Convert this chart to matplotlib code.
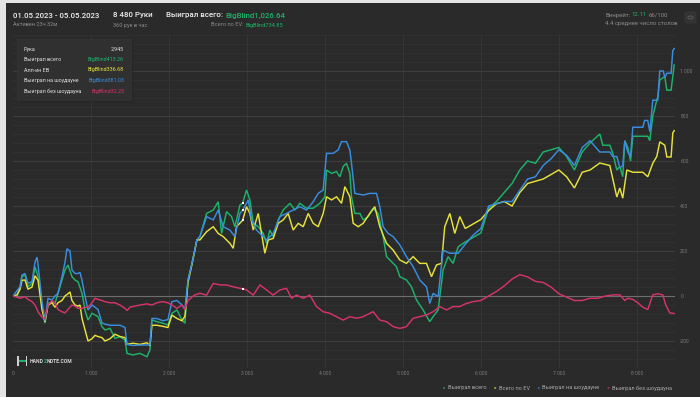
import matplotlib
matplotlib.use('Agg')
import matplotlib.pyplot as plt
from matplotlib.patches import Rectangle, FancyBboxPatch, Circle
from matplotlib.transforms import IdentityTransform

# ---------------- data: (hand, big blinds) ----------------
won_total = [
    (0, 0), (51, -3), (90, 41), (115, 86), (154, 93), (192, 41), (244, 56), (282, 130), (321, 86),
    (372, -47), (410, -121), (449, -33), (500, -25), (538, -33), (577, 12), (628, 71), (667, 116),
    (705, 138), (756, 86), (795, 71), (833, 64), (885, 12), (923, -62), (962, -107), (1013, -77),
    (1051, -84), (1090, -92), (1141, -136), (1179, -151), (1244, -144), (1308, -188), (1372, -181),
    (1436, -196), (1462, -255), (1538, -262), (1628, -255), (1718, -270), (1756, -240), (1782, -107),
    (1846, -114), (1923, -121), (1987, -129), (2038, -77), (2103, -62), (2167, -107), (2205, -121),
    (2244, 71), (2295, 145), (2359, 249), (2397, 264), (2483, 367), (2568, 382), (2632, 419),
    (2675, 278), (2739, 375), (2803, 353), (2846, 308), (2910, 404), (2945, 413.26), (2995, 471),
    (3038, 427), (3081, 323), (3145, 308), (3209, 278), (3252, 234), (3294, 293), (3337, 264),
    (3401, 338), (3465, 382), (3551, 412), (3615, 382), (3679, 412), (3764, 390), (3850, 390),
    (3935, 412), (4000, 441), (4021, 560), (4085, 545), (4149, 553), (4192, 530), (4234, 575),
    (4277, 590), (4320, 545), (4341, 441), (4384, 367), (4448, 367), (4491, 338), (4555, 353),
    (4619, 390), (4683, 367), (4747, 264), (4790, 175), (4854, 153), (4918, 130), (4961, 86),
    (5046, 71), (5110, 41), (5175, -18), (5260, -62), (5345, -114), (5388, -92), (5452, -62),
    (5516, 116), (5580, 175), (5644, 145), (5709, 219), (5800, 240), (5900, 260), (6000, 280),
    (6100, 390), (6200, 420), (6300, 460), (6400, 500), (6500, 560), (6600, 600), (6700, 590),
    (6800, 640), (6900, 650), (7000, 660), (7100, 620), (7200, 560), (7300, 640), (7400, 680),
    (7526, 720), (7564, 670), (7654, 670), (7692, 635), (7744, 560), (7782, 575), (7820, 530),
    (7846, 690), (7885, 660), (7920, 600), (7949, 710), (8077, 710), (8141, 710), (8167, 690),
    (8205, 800), (8256, 870), (8269, 885), (8295, 960), (8359, 975), (8385, 915), (8440, 915),
    (8480, 1026.64)]

allin_ev = [
    (0, 0), (51, 5), (90, 30), (115, 70), (154, 71), (192, 30), (244, 40), (282, 90), (321, 70),
    (372, -60), (410, -115), (449, -40), (500, -30), (538, -50), (577, -30), (628, -20), (667, 0),
    (705, 10), (731, 18), (756, -20), (795, -40), (833, -45), (859, -40), (885, -100), (923, -150),
    (962, -200), (1013, -190), (1051, -175), (1090, -180), (1141, -185), (1179, -200), (1244, -190),
    (1308, -170), (1372, -180), (1436, -185), (1462, -215), (1538, -210), (1628, -215), (1718, -208),
    (1756, -220), (1782, -130), (1846, -130), (1923, -135), (1987, -140), (2038, -85), (2103, -100),
    (2167, -110), (2205, -90), (2244, 60), (2295, 140), (2359, 250), (2397, 249), (2483, 286),
    (2568, 308), (2632, 278), (2696, 264), (2782, 234), (2824, 212), (2867, 308), (2945, 336.68),
    (2995, 397), (3038, 367), (3081, 293), (3145, 367), (3187, 278), (3230, 190), (3273, 249),
    (3337, 256), (3401, 323), (3465, 338), (3529, 367), (3593, 293), (3658, 323), (3722, 308),
    (3786, 367), (3850, 323), (3914, 308), (3978, 367), (4021, 441), (4085, 427), (4149, 441),
    (4213, 412), (4256, 486), (4320, 441), (4363, 323), (4427, 308), (4491, 323), (4576, 367),
    (4640, 397), (4704, 308), (4790, 234), (4875, 204), (4961, 160), (5046, 145), (5132, 175),
    (5217, 145), (5303, 145), (5367, 86), (5431, 138), (5495, 145), (5537, 308), (5602, 367),
    (5666, 278), (5730, 353), (5800, 300), (5900, 320), (6000, 340), (6100, 380), (6200, 410),
    (6300, 420), (6400, 400), (6500, 460), (6600, 500), (6700, 510), (6800, 520), (6900, 540),
    (7000, 560), (7100, 530), (7200, 480), (7300, 550), (7400, 560), (7526, 591), (7654, 580),
    (7692, 520), (7744, 440), (7782, 480), (7820, 435), (7872, 560), (7949, 550), (8077, 550),
    (8141, 530), (8205, 590), (8256, 620), (8295, 685), (8359, 670), (8385, 618), (8440, 618),
    (8462, 725), (8480, 734.85)]

showdown = [
    (0, 0), (90, 41), (115, 93), (154, 100), (192, 56), (244, 64), (282, 150), (308, 173), (321, 140),
    (372, -25), (410, -110), (449, -10), (500, -18), (538, 0), (577, 12), (628, 86), (667, 150),
    (692, 210), (731, 200), (756, 116), (795, 100), (833, 100), (859, 105), (885, 70), (923, 0),
    (962, -62), (1013, -40), (1051, -50), (1090, -60), (1141, -120), (1179, -125), (1244, -130),
    (1308, -130), (1372, -130), (1436, -140), (1462, -215), (1538, -220), (1628, -218), (1718, -218),
    (1756, -215), (1782, -100), (1846, -100), (1923, -110), (1987, -105), (2038, -25), (2103, -20),
    (2167, -40), (2205, -60), (2244, 71), (2295, 145), (2359, 250), (2397, 264), (2483, 353),
    (2568, 338), (2632, 382), (2696, 308), (2782, 293), (2846, 264), (2910, 367), (2945, 381.03),
    (3017, 427), (3059, 338), (3123, 293), (3209, 264), (3252, 249), (3337, 278), (3423, 353),
    (3508, 367), (3593, 382), (3679, 397), (3764, 382), (3850, 419), (3914, 456), (3978, 471),
    (4021, 634), (4106, 634), (4170, 649), (4213, 686), (4277, 686), (4320, 649), (4341, 590),
    (4384, 456), (4491, 449), (4576, 456), (4662, 456), (4704, 397), (4747, 308), (4811, 278),
    (4875, 264), (4961, 227), (5046, 175), (5132, 130), (5217, 71), (5303, 41), (5345, -33),
    (5388, 12), (5452, -3), (5516, 204), (5602, 190), (5709, 190), (5800, 230), (5900, 270),
    (6000, 300), (6100, 400), (6200, 410), (6300, 420), (6400, 420), (6500, 470), (6600, 520),
    (6700, 530), (6800, 580), (6900, 610), (7000, 650), (7100, 625), (7200, 580), (7300, 660),
    (7400, 690), (7526, 640), (7654, 640), (7692, 620), (7744, 620), (7782, 570), (7820, 580),
    (7846, 690), (7885, 640), (7920, 620), (7949, 750), (8077, 750), (8100, 780), (8141, 780),
    (8167, 730), (8205, 870), (8269, 870), (8295, 1000), (8340, 1000), (8359, 970), (8385, 990),
    (8440, 990), (8462, 1090), (8480, 1100)]

non_showdown = [
    (0, 0), (51, -5), (90, -10), (154, -3), (192, -15), (244, -25), (282, -40), (321, -70),
    (372, -95), (410, -100), (449, -40), (500, -20), (538, -30), (577, -60), (628, -70), (667, -75),
    (705, -60), (756, -40), (795, -45), (833, -55), (885, -55), (923, -50), (962, -50), (1013, -30),
    (1051, -10), (1090, -15), (1141, -20), (1179, -25), (1244, -30), (1308, -30), (1372, -40),
    (1436, -55), (1462, -65), (1500, -50), (1564, -45), (1628, -40), (1718, -35), (1782, -40),
    (1846, -30), (1923, -25), (1987, -30), (2038, -40), (2103, -55), (2167, -40), (2205, -60),
    (2244, -20), (2295, -5), (2333, 5), (2397, 12), (2483, 4), (2568, 56), (2654, 49), (2739, 49),
    (2824, 41), (2910, 34), (2945, 32.23), (2995, 27), (3081, 4), (3166, 49), (3252, 27), (3337, 4),
    (3423, 27), (3508, 34), (3572, -10), (3636, 4), (3722, -10), (3807, 4), (3893, -47), (3978, -70),
    (4064, -77), (4149, -92), (4234, -107), (4320, -92), (4406, -99), (4491, -92), (4576, -77),
    (4619, -70), (4704, -107), (4790, -114), (4875, -136), (4961, -144), (5046, -136), (5132, -99),
    (5217, -92), (5303, -84), (5388, -70), (5474, -47), (5560, -62), (5644, -47), (5730, -47),
    (5800, -35), (5900, -25), (6000, -20), (6100, 0), (6200, 20), (6300, 45), (6400, 75), (6500, 95),
    (6600, 85), (6700, 65), (6800, 60), (6900, 40), (7000, 10), (7100, -5), (7200, -20), (7300, -20),
    (7400, -10), (7500, -10), (7600, 0), (7700, 5), (7782, 5), (7846, -20), (7885, -10), (7949, -15),
    (8013, -30), (8077, -50), (8141, -60), (8205, 5), (8269, 10), (8333, 5), (8372, -40), (8423, -75),
    (8480, -78)]

series_names = ['Выиграл всего', 'Всего по EV', 'Выиграл на шоудауне', 'Выиграл без шоудауна']
series_colors = ['#1db46a', '#e6e23a', '#3a8ee0', '#d6336c']

hover_hand = 2945
hover_values = [413.26, 336.68, 381.03, 32.23]

x_ticks = [0, 1000, 2000, 3000, 4000, 5000, 6000, 7000, 8000]
x_labels = ['0', '1 000', '2 000', '3 000', '4 000', '5 000', '6 000', '7 000', '8 000']
y_ticks = [-200, 0, 200, 400, 600, 800, 1000]
y_labels = ['-200', '0', '200', '400', '600', '800', '1 000']

# ---------------- figure ----------------
W, H = 700, 397
FONT = 'Roboto'
fig = plt.figure(figsize=(7.0, 3.97), dpi=100)
fig.patch.set_facecolor('#e4e4e4')
fig.patches.append(Rectangle((6 / W, 0), 1 - 6 / W, 1 - 3 / H, transform=fig.transFigure,
                             facecolor='#2a2a2a', edgecolor='none', zorder=-10))

ax_l, ax_r, ax_t, ax_b = 13, 675, 35, 368
ax = fig.add_axes([ax_l / W, 1 - ax_b / H, (ax_r - ax_l) / W, (ax_b - ax_t) / H])
ax.set_facecolor('none')
ax.set_xlim(0, 8490)
ax.set_ylim(-320, 1160)
for s in ax.spines.values():
    s.set_visible(False)

# grid
for v in range(-320, 1161, 40):
    if v % 200 == 0:
        continue
    ax.axhline(v, color='#323232', lw=0.6, zorder=1)
for v in y_ticks:
    ax.axhline(v, color='#3d3d3d' if v != 0 else '#6e6e6e', lw=0.8, zorder=1.5)
for v in x_ticks[1:]:
    ax.axvline(v, color='#363636', lw=0.7, zorder=1)

data = [won_total, allin_ev, showdown, non_showdown]
for pts, col in zip(data, series_colors):
    hx, hv = zip(*pts)
    ax.plot(hx, hv, color=col, lw=1.05, zorder=3, solid_joinstyle='miter')
ax.scatter([hover_hand] * 4, hover_values, s=3, marker='s', color='white', zorder=5, linewidths=0)

ax.set_xticks(x_ticks)
ax.set_xticklabels(x_labels)
ax.yaxis.tick_right()
ax.set_yticks(y_ticks)
ax.set_yticklabels(y_labels)
ax.tick_params(axis='x', length=0, pad=2, labelsize=3.6, labelcolor='#7c7c7c')
ax.tick_params(axis='y', length=0, pad=3.8, labelsize=3.6, labelcolor='#7c7c7c')
for lab in ax.get_xticklabels() + ax.get_yticklabels():
    lab.set_family(FONT)

# ---------------- texts ----------------
renderer = fig.canvas.get_renderer()


def txt(x, y, s, color, size, ha='left', weight='normal'):
    return fig.text(x, H - y, s, color=color, fontsize=size, ha=ha, va='center',
                    family=FONT, fontweight=weight, transform=IdentityTransform(), zorder=10)


def rich(x, y, parts, size, ha='left', weight='normal', gap=0.0):
    objs = []
    widths = []
    for s, c in parts:
        t = txt(0, y, s, c, size, weight=weight)
        objs.append(t)
        widths.append(t.get_window_extent(renderer).width)
    total = sum(widths) + gap * (len(parts) - 1)
    cx = x if ha == 'left' else x - total
    for t, w in zip(objs, widths):
        t.set_x(cx)
        cx += w + gap


WHITE = '#eeeeee'
GREY = '#8a8a8a'
GREEN = '#1db46a'

txt(13, 15.5, '01.05.2023 - 05.05.2023', WHITE, 5.7, weight='medium')
txt(13, 25, 'Активен 23ч 32м', GREY, 4.1)
txt(113, 15.5, '8 480 Руки', WHITE, 5.7, weight='medium')
txt(113, 25, '360 рук в час', GREY, 4.1)
rich(166, 15.5, [('Выиграл всего:', WHITE), ('BigBlind1,026.64', GREEN)], 5.7,
     weight='medium', gap=2.5)
rich(283, 25, [('Всего по EV:', GREY), ('BigBlind734.85', GREEN)], 4.1, ha='right', gap=1.8)
rich(605, 15, [('Винрейт:', GREY), ('12.11', GREEN), ('66/100', GREY)], 4.3, gap=1.8)
txt(605, 24, '4.4 среднее число столов', GREY, 4.3)

# gear box
fig.patches.append(FancyBboxPatch(((685) / W, 1 - 23 / H), 11 / W, 11 / H,
                                  boxstyle='round,pad=0,rounding_size=0.004',
                                  transform=fig.transFigure, facecolor='#333333',
                                  edgecolor='#3a3a3a', lw=0.5, zorder=9))
fig.patches.append(Circle((690.5 / W, 1 - 17.5 / H), 2.6 / W, transform=fig.transFigure,
                          facecolor='none', edgecolor='#5a5a5a', lw=0.7, zorder=10))

# tooltip box
fig.patches.append(Rectangle((19 / W, 1 - 102 / H), 114 / W, 61 / H, transform=fig.transFigure,
                             facecolor='#222222', edgecolor='none', alpha=0.6, zorder=8))
fig.patches.append(Rectangle((17 / W, 1 - 99.5 / H), 114 / W, 60.5 / H, transform=fig.transFigure,
                             facecolor='#303030', edgecolor='#353535', lw=0.5, zorder=9))
tip_rows = [('Рука', '2,945', '#e0e0e0')] + [
    (n if i != 1 else 'Алл-ин EB', 'BigBlind%.2f' % v, c)
    for i, (n, v, c) in enumerate(zip(series_names, hover_values, series_colors))]
for i, (lab, val, col) in enumerate(tip_rows):
    yy = 49 + i * 10.5
    txt(24, yy, lab, '#e0e0e0', 3.9)
    txt(124, yy, val, col, 3.9, ha='right')

# logo
fig.patches.append(Rectangle((17 / W, 1 - 366 / H), 1.6 / W, 10 / H, transform=fig.transFigure,
                             facecolor='#cfcfcf', edgecolor='none', zorder=9))
fig.patches.append(Rectangle((25.5 / W, 1 - 366 / H), 1.6 / W, 10 / H, transform=fig.transFigure,
                             facecolor='#cfcfcf', edgecolor='none', zorder=9))
fig.patches.append(Rectangle((18.5 / W, 1 - 362 / H), 7.2 / W, 2 / H, transform=fig.transFigure,
                             facecolor=GREEN, edgecolor='none', zorder=9))
rich(30, 361.5, [('HAND', '#d8d8d8'), ('2', GREEN), ('NOTE.COM', '#d8d8d8')], 3.6, weight='bold')

# legend
leg_y = 388
x = 444
for name, col in zip(series_names, series_colors):
    fig.patches.append(Circle((x / W, 1 - leg_y / H), 1.1 / W, transform=fig.transFigure,
                              facecolor=col, edgecolor='none', zorder=10))
    t = txt(x + 3.5, leg_y, name, '#a8a8a8', 4.1)
    x = x + 3.5 + t.get_window_extent(renderer).width + 9

fig.savefig('out.png', dpi=100, facecolor=fig.get_facecolor())
